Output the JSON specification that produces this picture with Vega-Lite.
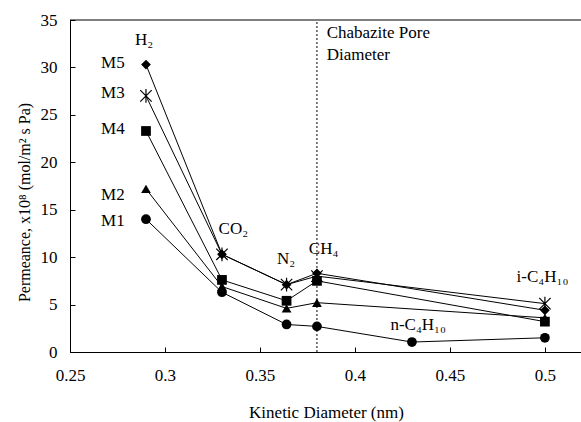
{
  "$schema": "https://vega.github.io/schema/vega-lite/v6.json",
  "autosize": {"type": "none"},
  "padding": {"left": 70, "top": 20, "right": 0, "bottom": 70},
  "width": 511,
  "height": 332,
  "background": "white",
  "config": {
    "view": {"stroke": null},
    "font": "Liberation Serif, Times New Roman, serif",
    "axis": {
      "grid": false,
      "domainColor": "black",
      "tickColor": "black",
      "labelColor": "black",
      "titleColor": "black",
      "labelFont": "Liberation Serif, Times New Roman, serif",
      "titleFont": "Liberation Serif, Times New Roman, serif",
      "labelFontSize": 17,
      "titleFontSize": 17,
      "titleFontWeight": "normal",
      "tickSize": -5,
      "domainWidth": 1,
      "tickWidth": 1
    }
  },
  "datasets": {
    "perm": [
      {"series": "M1", "gas": "H2", "x": 0.29, "y": 14.0},
      {"series": "M1", "gas": "CO2", "x": 0.33, "y": 6.3},
      {"series": "M1", "gas": "N2", "x": 0.364, "y": 2.9},
      {"series": "M1", "gas": "CH4", "x": 0.38, "y": 2.7},
      {"series": "M1", "gas": "n-C4H10", "x": 0.43, "y": 1.05},
      {"series": "M1", "gas": "i-C4H10", "x": 0.5, "y": 1.5},
      {"series": "M2", "gas": "H2", "x": 0.29, "y": 17.2},
      {"series": "M2", "gas": "CO2", "x": 0.33, "y": 6.9},
      {"series": "M2", "gas": "N2", "x": 0.364, "y": 4.6},
      {"series": "M2", "gas": "CH4", "x": 0.38, "y": 5.2},
      {"series": "M2", "gas": "i-C4H10", "x": 0.5, "y": 3.6},
      {"series": "M3", "gas": "H2", "x": 0.29, "y": 27.0},
      {"series": "M3", "gas": "CO2", "x": 0.33, "y": 10.3},
      {"series": "M3", "gas": "N2", "x": 0.364, "y": 7.1},
      {"series": "M3", "gas": "CH4", "x": 0.38, "y": 8.0},
      {"series": "M3", "gas": "i-C4H10", "x": 0.5, "y": 5.1},
      {"series": "M4", "gas": "H2", "x": 0.29, "y": 23.3},
      {"series": "M4", "gas": "CO2", "x": 0.33, "y": 7.6},
      {"series": "M4", "gas": "N2", "x": 0.364, "y": 5.4},
      {"series": "M4", "gas": "CH4", "x": 0.38, "y": 7.5},
      {"series": "M4", "gas": "i-C4H10", "x": 0.5, "y": 3.2},
      {"series": "M5", "gas": "H2", "x": 0.29, "y": 30.3},
      {"series": "M5", "gas": "CO2", "x": 0.33, "y": 10.3},
      {"series": "M5", "gas": "N2", "x": 0.364, "y": 7.1},
      {"series": "M5", "gas": "CH4", "x": 0.38, "y": 8.3},
      {"series": "M5", "gas": "i-C4H10", "x": 0.5, "y": 4.4}
    ],
    "labels": [
      {"label": "H₂", "x": 0.289, "y": 32.9},
      {"label": "M5", "x": 0.2726, "y": 30.5},
      {"label": "M3", "x": 0.2726, "y": 27.3},
      {"label": "M4", "x": 0.2726, "y": 23.5},
      {"label": "M2", "x": 0.2726, "y": 16.5},
      {"label": "M1", "x": 0.2726, "y": 13.8},
      {"label": "CO₂", "x": 0.336, "y": 12.95},
      {"label": "N₂", "x": 0.3637, "y": 9.85},
      {"label": "CH₄", "x": 0.3835, "y": 10.9},
      {"label": "i-C₄H₁₀", "x": 0.4987, "y": 7.9},
      {"label": "n-C₄H₁₀", "x": 0.4333, "y": 2.8}
    ],
    "notes": [
      {"label": "Chabazite Pore", "x": 0.3851, "y": 33.6},
      {"label": "Diameter", "x": 0.3851, "y": 31.3}
    ],
    "pore": [{"x": 0.38}]
  },
  "layer": [
    {
      "data": {"name": "pore"},
      "mark": {"type": "rule", "color": "black", "strokeWidth": 1, "strokeDash": [2, 2]},
      "encoding": {
        "x": {"field": "x", "type": "quantitative"},
        "y": {"datum": 0},
        "y2": {"datum": 35}
      }
    },
    {
      "data": {"values": [{"top": 35}]},
      "mark": {"type": "rule", "color": "black", "strokeWidth": 1},
      "encoding": {"y": {"field": "top", "type": "quantitative"}}
    },
    {
      "data": {"name": "perm"},
      "mark": {"type": "line", "color": "black", "strokeWidth": 1},
      "encoding": {
        "x": {
          "field": "x", "type": "quantitative",
          "scale": {"domain": [0.25, 0.519], "nice": false, "zero": false},
          "axis": {
            "values": [0.25, 0.3, 0.35, 0.4, 0.45, 0.5],
            "format": "~g",
            "labelPadding": 20,
            "labelFlush": false,
            "title": "Kinetic Diameter (nm)",
            "titleY": 60,
            "titleBaseline": "middle",
            "titleX": 256
          }
        },
        "y": {
          "field": "y", "type": "quantitative",
          "scale": {"domain": [0, 35], "nice": false},
          "axis": {
            "values": [0, 5, 10, 15, 20, 25, 30, 35],
            "format": "d",
            "labelPadding": 18,
            "labelFlush": false,
            "title": "Permeance, x10⁸ (mol/m² s Pa)",
            "titleFontSize": 16,
            "titleX": -46,
            "titleY": 182,
            "titleBaseline": "middle"
          }
        },
        "detail": {"field": "series"}
      }
    },
    {
      "data": {"name": "perm"},
      "transform": [{"filter": "datum.series !== 'M3'"}],
      "mark": {"type": "point", "filled": true, "color": "black", "opacity": 1, "size": 95},
      "encoding": {
        "x": {"field": "x", "type": "quantitative"},
        "y": {"field": "y", "type": "quantitative"},
        "shape": {
          "field": "series", "type": "nominal",
          "scale": {"domain": ["M1", "M2", "M4", "M5"], "range": ["circle", "triangle-up", "square", "diamond"]},
          "legend": null
        }
      }
    },
    {
      "data": {"name": "perm"},
      "transform": [{"filter": "datum.series === 'M3'"}],
      "mark": {"type": "point", "filled": false, "color": "black", "opacity": 1, "strokeWidth": 1.2, "size": 130,
        "shape": "M-1,-1L1,1M-1,1L1,-1M0,-1.2L0,1.2"},
      "encoding": {
        "x": {"field": "x", "type": "quantitative"},
        "y": {"field": "y", "type": "quantitative"}
      }
    },
    {
      "data": {"name": "labels"},
      "mark": {"type": "text", "align": "center", "baseline": "middle", "fontSize": 17, "font": "Liberation Serif, Times New Roman, serif", "color": "black"},
      "encoding": {
        "x": {"field": "x", "type": "quantitative"},
        "y": {"field": "y", "type": "quantitative"},
        "text": {"field": "label"}
      }
    },
    {
      "data": {"name": "notes"},
      "mark": {"type": "text", "align": "left", "baseline": "middle", "fontSize": 17, "font": "Liberation Serif, Times New Roman, serif", "color": "black"},
      "encoding": {
        "x": {"field": "x", "type": "quantitative"},
        "y": {"field": "y", "type": "quantitative"},
        "text": {"field": "label"}
      }
    }
  ]
}
